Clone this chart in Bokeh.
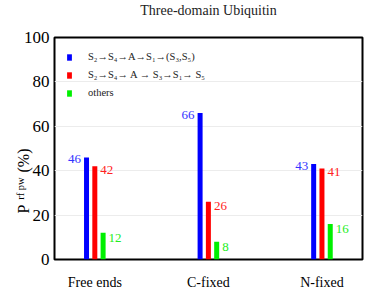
import numpy as np
from bokeh.plotting import figure
from bokeh.models import (ColumnDataSource, FixedTicker, Range1d, Legend, LegendItem,
                          LinearAxis, LabelSet)
from bokeh.embed import file_html
from bokeh.resources import INLINE

# ---------------- data ----------------
categories = ["Free ends", "C-fixed", "N-fixed"]
series_names = ["S\u2082\u2192S\u2084\u2192A\u2192S\u2081\u2192(S\u2083,S\u2085)",
                "S\u2082\u2192S\u2084\u2192 A \u2192 S\u2083\u2192S\u2081\u2192 S\u2085",
                "others"]
blue_vals = [46, 66, 43]
red_vals = [42, 26, 41]
green_vals = [12, 8, 16]
y_ticks = [0, 20, 40, 60, 80, 100]
title_text = "Three-domain Ubiquitin"
ylabel_main = "P" + "\u00a0" * 8 + "(%)"
ylabel_sub = "rf pw" + "\u00a0" * 11

colors = ["#0000ff", "#ff0000", "#00f000"]
label_colors = ["#3333ff", "#ff2222", "#22ee22"]
FONT = "Liberation Serif"

XS, XE = 0.645, 3.357
FW, FH = 308, 222
L, T = 54, 37

p = figure(frame_width=FW, frame_height=FH, output_backend="svg", toolbar_location=None,
           x_range=Range1d(XS, XE), y_range=Range1d(0, 100),
           min_border_left=L, min_border_right=4, min_border_top=T, min_border_bottom=31)

idx = np.arange(1, len(categories) + 1)
offsets = [-0.073, 0.0, 0.073]
bw = 0.044
all_vals = [blue_vals, red_vals, green_vals]
pxu = FW / (XE - XS)

renderers = []
for k, vals in enumerate(all_vals):
    src = ColumnDataSource(dict(x=idx + offsets[k], top=vals,
                                txt=[str(v) for v in vals]))
    r = p.vbar(x="x", top="top", width=bw, bottom=0, source=src,
               fill_color=colors[k], line_color=None)
    renderers.append(r)
    if k == 0:
        ls = LabelSet(x="x", y="top", text="txt", source=src, x_offset=-(bw * pxu / 2 + 3),
                      y_offset=-2, text_align="right", text_baseline="middle",
                      text_font=FONT, text_font_size="13px", text_color=label_colors[k])
    else:
        ls = LabelSet(x="x", y="top", text="txt", source=src, x_offset=(bw * pxu / 2 + 3),
                      y_offset=-4 if k == 1 else -5, text_align="left", text_baseline="middle",
                      text_font=FONT, text_font_size="13px", text_color=label_colors[k])
    p.add_layout(ls)

# legend
legend = Legend(items=[LegendItem(label=series_names[k], renderers=[renderers[k]]) for k in range(3)],
                location="top_left", margin=12, padding=2, spacing=3,
                glyph_width=6, glyph_height=8, label_height=15, label_standoff=16,
                label_text_font=FONT, label_text_font_size="10.5px", label_text_color="#222222",
                border_line_color=None, background_fill_alpha=0)
p.add_layout(legend)

# axes
p.xaxis.ticker = FixedTicker(ticks=list(idx))
p.xaxis.major_label_overrides = {int(i): c for i, c in zip(idx, categories)}
p.xaxis.major_label_text_font = FONT
p.xaxis.major_label_text_font_size = "14px"
p.xaxis.major_label_text_color = "black"
p.xaxis.major_label_standoff = 15
p.xaxis.major_tick_line_color = None
p.xaxis.major_tick_out = 0
p.xaxis.major_tick_in = 0
p.xaxis.minor_tick_line_color = None
p.xaxis.minor_tick_out = 0
p.xaxis.axis_line_color = None

p.yaxis.ticker = FixedTicker(ticks=y_ticks)
p.yaxis.major_label_text_font = FONT
p.yaxis.major_label_text_font_size = "17px"
p.yaxis.major_label_text_color = "black"
p.yaxis.major_label_standoff = 5
p.yaxis.major_tick_line_color = None
p.yaxis.major_tick_out = 0
p.yaxis.major_tick_in = 0
p.yaxis.minor_tick_line_color = None
p.yaxis.minor_tick_out = 0
p.yaxis.axis_line_color = None


def label_axis(text, size, standoff):
    return LinearAxis(ticker=FixedTicker(ticks=[]), axis_label=text,
                      axis_label_orientation=np.pi / 2,
                      axis_label_text_font=FONT, axis_label_text_font_size=size,
                      axis_label_text_font_style="normal", axis_label_text_color="black",
                      axis_label_standoff=standoff, major_label_text_font_size="0px",
                      axis_line_color=None, major_tick_line_color=None,
                      minor_tick_line_color=None, major_tick_out=0, major_tick_in=0,
                      minor_tick_out=0, minor_tick_in=0, major_label_standoff=0)


# subscript part of the y label next to the tick labels, main part outside it
p.add_layout(label_axis(ylabel_sub, "10.5px", 0), "left")
p.add_layout(label_axis(ylabel_main, "16px", -17), "left")

p.xgrid.grid_line_color = None
p.ygrid.grid_line_color = "#ececec"
p.outline_line_color = "black"
p.outline_line_width = 2
p.outline_line_alpha = 1

# title (a blank second line lifts the text toward the top edge)
p.title.text = title_text + "\n\u00a0"
p.title.align = "center"
p.title.text_font = FONT
p.title.text_font_size = "14px"
p.title.text_font_style = "normal"
p.title.text_color = "#222222"
p.title.text_line_height = 1.3
p.title.standoff = 0

open("out.html", "w").write(file_html(p, INLINE))
